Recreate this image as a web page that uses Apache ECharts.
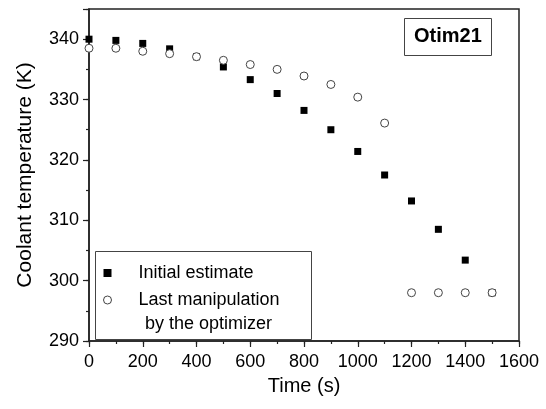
<!DOCTYPE html>
<html>
<head>
<meta charset="utf-8">
<script src="https://cdn.jsdelivr.net/npm/echarts@6/dist/echarts.min.js"></script>
<style>html,body{margin:0;padding:0;background:#fff}#c{width:546px;height:409px}</style>
</head>
<body>
<div id="c"></div>
<script>
var times = [0, 100, 200, 300, 400, 500, 600, 700, 800, 900, 1000, 1100, 1200, 1300, 1400, 1500];
var initialEstimate = [340.0, 339.8, 339.3, 338.4, 337.1, 335.4, 333.3, 331.0, 328.2, 325.0, 321.4, 317.5, 313.2, 308.5, 303.4, 298.0];
var lastManipulation = [338.5, 338.5, 338.0, 337.6, 337.1, 336.5, 335.8, 335.0, 333.9, 332.5, 330.4, 326.1, 298.0, 298.0, 298.0, 298.0];
var seriesNames = ['Initial estimate', 'Last manipulation by the optimizer'];
var legendLabels = ['Initial estimate', 'Last manipulation', ' by the optimizer'];
var xTickLabels = ['0', '200', '400', '600', '800', '1000', '1200', '1400', '1600'];
var yTickLabels = ['290', '300', '310', '320', '330', '340'];
var annotation = 'Otim21';

var FONT = '"Liberation Sans", Arial, Helvetica, sans-serif';
function pairs(xs, ys) { return xs.map(function (x, i) { return [x, ys[i]]; }); }

var chart = echarts.init(document.getElementById('c'), null, {renderer: 'canvas'});
var axisCol = '#222';
chart.setOption({
  animation: false,
  backgroundColor: '#fff',
  grid: {left: 89, right: 27, top: 9, bottom: 68, show: true, borderColor: axisCol, borderWidth: 1.5, backgroundColor: 'transparent'},
  xAxis: [{
    type: 'value', min: 0, max: 1600, interval: 100,
    name: 'Time (s)', nameLocation: 'middle', nameGap: 35,
    nameTextStyle: {fontFamily: FONT, fontSize: 20, color: '#000'},
    axisLine: {show: true, lineStyle: {color: axisCol, width: 1.5}},
    axisTick: {show: true, length: 3, lineStyle: {color: axisCol, width: 1.2}},
    splitLine: {show: false},
    axisLabel: {margin: 12, fontFamily: FONT, fontSize: 18, color: '#000',
      formatter: function (v) { return xTickLabels.indexOf(String(v)) >= 0 ? String(v) : ''; }}
  }, {
    type: 'value', min: 0, max: 1600, interval: 200, position: 'bottom',
    axisLine: {show: false}, axisLabel: {show: false}, splitLine: {show: false},
    axisTick: {show: true, length: 6, lineStyle: {color: axisCol, width: 1.2}}
  }],
  yAxis: [{
    type: 'value', min: 290, max: 345, interval: 5,
    name: 'Coolant temperature (K)', nameLocation: 'middle', nameGap: 53,
    nameTextStyle: {fontFamily: FONT, fontSize: 21, color: '#000'},
    axisLine: {show: true, lineStyle: {color: axisCol, width: 1.5}},
    axisTick: {show: true, length: 3, lineStyle: {color: axisCol, width: 1.2}},
    splitLine: {show: false},
    axisLabel: {margin: 10, fontFamily: FONT, fontSize: 18, color: '#000',
      formatter: function (v) { return yTickLabels.indexOf(String(v)) >= 0 ? String(v) : ''; }}
  }, {
    type: 'value', min: 290, max: 345, interval: 10, position: 'left',
    axisLine: {show: false}, axisLabel: {show: false}, splitLine: {show: false},
    axisTick: {show: true, length: 6, lineStyle: {color: axisCol, width: 1.2}}
  }],
  legend: {
    left: 103, top: 260, orient: 'vertical', itemGap: 1, padding: 0,
    itemWidth: 8, itemHeight: 8,
    data: [
      {name: seriesNames[0], icon: 'rect', itemStyle: {color: '#000'}},
      {name: seriesNames[1], icon: 'circle', itemStyle: {color: '#fff', borderColor: '#444', borderWidth: 1}}
    ],
    formatter: function (n) { return n === seriesNames[0] ? legendLabels[0] : legendLabels[1]; },
    textStyle: {fontFamily: FONT, fontSize: 18, color: '#000', lineHeight: 26, padding: [0, 0, 0, 22]}
  },
  graphic: [
    {type: 'rect', left: 93, top: 249, shape: {width: 216, height: 88}, style: {fill: 'none', stroke: '#444', lineWidth: 1}, z: 50},
    {type: 'text', left: 140, top: 315, style: {text: legendLabels[2], font: '18px ' + FONT, fill: '#000'}, z: 50},
    {type: 'rect', left: 404, top: 18, shape: {width: 87, height: 37}, style: {fill: '#fff', stroke: '#444', lineWidth: 1}, z: 50},
    {type: 'text', left: 414, top: 26, style: {text: annotation, font: 'bold 20px ' + FONT, fill: '#000'}, z: 51}
  ],
  series: [
    {name: seriesNames[0], type: 'scatter', symbol: 'rect', symbolSize: 7, z: 2,
      itemStyle: {color: '#000', opacity: 1}, data: pairs(times, initialEstimate)},
    {name: seriesNames[1], type: 'scatter', symbol: 'circle', symbolSize: 8, z: 3,
      itemStyle: {color: '#fff', borderColor: '#444', borderWidth: 1, opacity: 1}, data: pairs(times, lastManipulation)}
  ]
});
</script>
</body>
</html>
